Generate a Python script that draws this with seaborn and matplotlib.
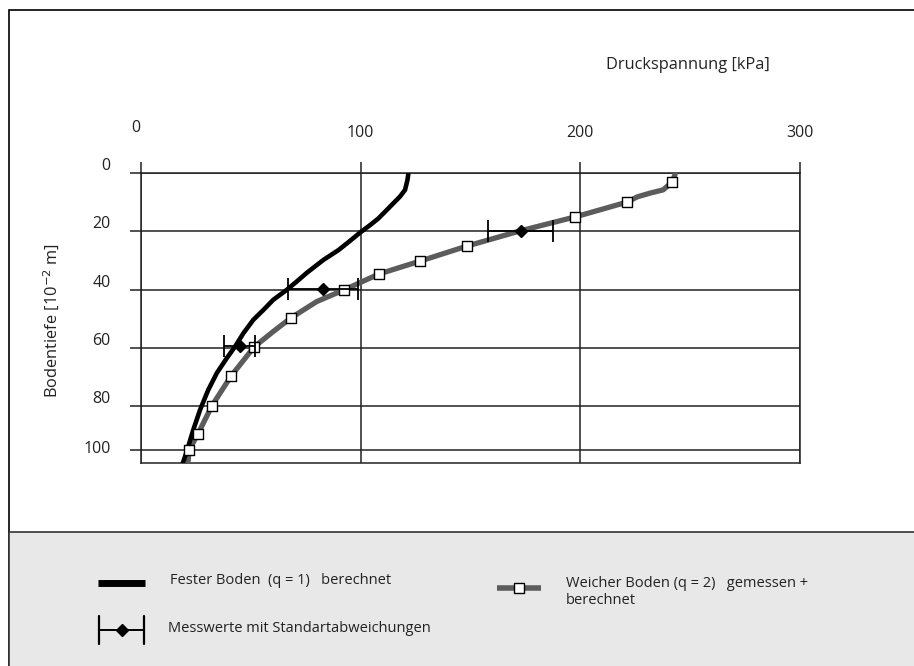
import matplotlib
matplotlib.use("Agg")
import matplotlib.pyplot as plt
import matplotlib.transforms as mtransforms
from matplotlib.lines import Line2D
from matplotlib.patches import Rectangle
import seaborn as sns

# Fester Boden (q = 1), berechnet
fest_druck = [121.7, 121.3, 120.2, 117.9, 114.9, 111.9, 108.1, 104.3, 99.7, 95.2, 89.9,
              83.0, 75.5, 70.9, 66.3, 60.2, 55.7, 51.1, 46.6, 42.8, 39.0, 34.5, 30.6,
              26.9, 23.8, 20.8, 19.0]
fest_tiefe = [0.2, 2.3, 5.7, 8.0, 10.3, 12.6, 15.5, 17.8, 20.4, 23.2, 26.4,
              29.8, 34.2, 37.2, 40.1, 43.5, 47.0, 50.4, 55.0, 59.6, 63.6, 68.7, 74.5,
              81.3, 88.2, 95.7, 99.7]

# Weicher Boden (q = 2), Kurve
weich_druck = [243.2, 241.8, 237.7, 231.8, 225.9, 221.3, 197.6, 172.6, 148.5, 127.0, 108.4,
               92.4, 80.0, 68.3, 60.2, 51.5, 41.0, 32.3, 26.0, 21.9, 21.4]
weich_tiefe = [0.2, 3.0, 5.7, 6.8, 8.1, 9.9, 15.0, 19.8, 25.0, 30.2, 34.6,
               40.1, 44.1, 49.7, 54.4, 59.7, 69.7, 79.9, 89.5, 95.1, 99.5]

# Weicher Boden, gemessene Punkte
punkte_druck = [241.8, 221.3, 197.6, 148.5, 127.0, 108.4, 92.4, 68.3, 51.5, 41.0, 32.3, 26.0, 21.9]
punkte_tiefe = [3.0, 9.9, 15.0, 25.0, 30.2, 34.6, 40.1, 49.7, 59.7, 69.7, 79.9, 89.5, 95.1]

# Messwerte mit Standardabweichungen
mess_druck = [172.8, 82.9, 44.9]
mess_tiefe = [19.8, 39.7, 59.3]
mess_std = [14.8, 16.0, 7.0]

x_ticks = [0, 100, 200, 300]
y_ticks = [0, 20, 40, 60, 80, 95.1]
y_ticklabels = ['0', '20', '40', '60', '80', '100']

sns.set_style("white")
plt.rcParams['font.family'] = ['Open Sans', 'DejaVu Sans']

W, H = 914, 666
fig = plt.figure(figsize=(W / 100, H / 100), dpi=100)

# Rahmen und grauer Legendenbereich
fig.add_artist(Rectangle((9 / W, -0.05), 1.2, 1.05 - 10 / H, transform=fig.transFigure,
                         facecolor='white', edgecolor='black', lw=1.2, zorder=0))
fig.add_artist(Rectangle((9 / W, -0.05), 1.2, 0.05 + (H - 532) / H, transform=fig.transFigure,
                         facecolor='#e8e8e8', edgecolor='#333333', lw=1.2, zorder=0))

ax = fig.add_axes([141 / W, 1 - 463 / H, (800 - 141) / W, (463 - 173.3) / H])
ax.set_facecolor('white')

sns.lineplot(x=fest_druck, y=fest_tiefe, sort=False, color='black', lw=3.3, ax=ax, zorder=4)
sns.lineplot(x=weich_druck, y=weich_tiefe, sort=False, color='#5c5c5c', lw=3.8, ax=ax, zorder=3)
sns.scatterplot(x=punkte_druck, y=punkte_tiefe, marker='s', s=48, facecolor='white',
                edgecolor='black', linewidth=1.0, ax=ax, zorder=5)
ax.errorbar(mess_druck, mess_tiefe, xerr=mess_std, fmt='D', color='black', ms=6,
            elinewidth=1.3, capsize=8, capthick=1.3, zorder=6)

ax.set_xlim(0, 300)
ax.set_ylim(99.6, 0)
ax.xaxis.tick_top()
ax.set_xticks(x_ticks)
ax.set_yticks(y_ticks)
ax.set_yticklabels(y_ticklabels)
ax.grid(True, color='#222222', lw=1.1)
ax.tick_params(axis='x', which='both', top=True, bottom=False, length=8, width=1.1,
               color='#222222', pad=15, labelsize=11.5, labelcolor='#222222')
ax.tick_params(axis='y', left=True, length=8, width=1.1, color='#222222', pad=14,
               labelsize=11.5, labelcolor='#222222')
for sp in ax.spines.values():
    sp.set_color('#222222')
    sp.set_linewidth(1.1)

# Beschriftungen leicht versetzt wie im Original
for i, lab in enumerate(ax.get_yticklabels()):
    dy = 3 if i == len(y_ticks) - 1 else 9
    lab.set_transform(lab.get_transform() + mtransforms.ScaledTranslation(0, dy / 100, fig.dpi_scale_trans))
lab0 = ax.get_xticklabels()[0]
lab0.set_transform(lab0.get_transform() + mtransforms.ScaledTranslation(-5 / 100, 5 / 100, fig.dpi_scale_trans))

fig.text(688 / W, 1 - 65 / H, 'Druckspannung [kPa]', ha='center', va='center',
         fontsize=11.8, color='#222222')
fig.text(52 / W, 1 - 321 / H, 'Bodentiefe [10$^{-2}$ m]', rotation=90, ha='center',
         va='center', fontsize=11.8, color='#222222')

# Legende
tf = fig.transFigure
def fy(y):
    return 1 - y / H

fig.add_artist(Line2D([98 / W, 145 / W], [fy(583), fy(583)], transform=tf, color='black',
                      lw=5, solid_capstyle='butt'))
fig.text(170 / W, fy(580), 'Fester Boden  (q = 1)   berechnet', va='center', fontsize=10.5, color='#222222')

fig.add_artist(Line2D([99 / W, 144 / W], [fy(630), fy(630)], transform=tf, color='black', lw=1.4))
fig.add_artist(Line2D([99 / W, 99 / W], [fy(616), fy(644)], transform=tf, color='black', lw=1.6))
fig.add_artist(Line2D([144 / W, 144 / W], [fy(616), fy(644)], transform=tf, color='black', lw=1.6))
fig.add_artist(Line2D([122 / W], [fy(630)], transform=tf, color='black', marker='D', ms=6))
fig.text(168 / W, fy(628), 'Messwerte mit Standartabweichungen', va='center', fontsize=10.5, color='#222222')

fig.add_artist(Line2D([497 / W, 541 / W], [fy(588), fy(588)], transform=tf, color='#5c5c5c',
                      lw=4, solid_capstyle='butt'))
fig.add_artist(Line2D([519 / W], [fy(588)], transform=tf, marker='s', ms=6.5,
                      markerfacecolor='white', markeredgecolor='black', markeredgewidth=1.0, lw=0))
fig.text(566 / W, fy(592), 'Weicher Boden (q = 2)   gemessen +\nberechnet', va='center',
         fontsize=10.5, color='#222222', linespacing=1.25)

fig.savefig('out.png', dpi=100)
